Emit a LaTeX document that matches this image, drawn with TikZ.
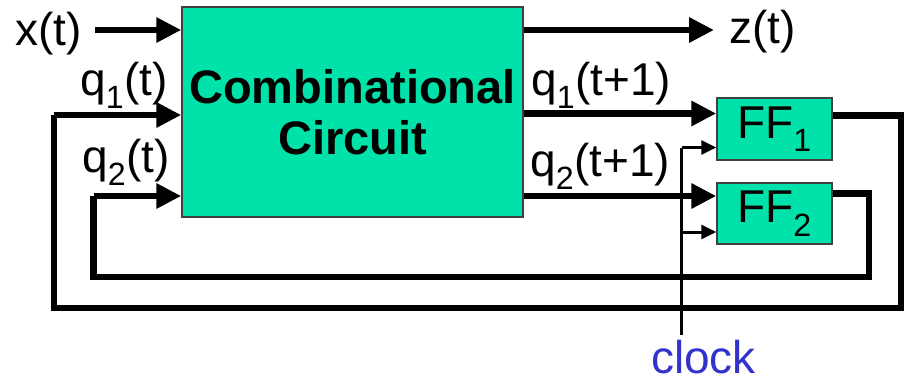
\documentclass[tikz,border=0pt]{standalone}
\usepackage{fontspec}
\setmainfont{Liberation Sans}
\definecolor{CircuitGreen}{RGB}{0, 226, 170}
\definecolor{ClockBlue}{RGB}{51, 51, 204}
\usetikzlibrary{arrows.meta, positioning}

\begin{document}
\begin{tikzpicture}[
        x=1pt, y=-1pt,
        block/.style={draw=black!75, fill=CircuitGreen, line width=1.5pt, rectangle, inner sep=0pt, align=center},
        sig/.style={inner sep=0pt, anchor=base west, font=\fontsize{46}{50}\selectfont},
        bus/.style={line width=6.5pt, -{Triangle[length=25pt, width=24pt]}},
        loopwire/.style={line width=6.5pt, line join=miter},
        clkwire/.style={line width=3pt},
        clkarrow/.style={line width=3pt, -{Triangle[length=15pt, width=14pt]}}
      ]
        \useasboundingbox (0,0) rectangle (904,381);

        \node (comb) [block, minimum width=341pt, minimum height=210pt, font=\fontsize{47}{51}\selectfont\bfseries] at (352.5,112) {Combinational\\Circuit};
        \node (ff1) [block, minimum width=115pt, minimum height=62pt, font=\fontsize{46}{50}\selectfont] at (774.5,129) {FF\textsubscript{1}};
        \node (ff2) [block, minimum width=115pt, minimum height=61pt, font=\fontsize{46}{50}\selectfont] at (774.5,213.5) {FF\textsubscript{2}};

        \node (xlab) [sig] at (15,45) {x(t)};
        \node (zlab) [sig] at (729,43) {z(t)};
        \node (q1lab) [sig] at (80,95) {q\textsubscript{1}(t)};
        \node (q2lab) [sig] at (82,172) {q\textsubscript{2}(t)};
        \node (q1next) [sig] at (531,95) {q\textsubscript{1}(t+1)};
        \node (q2next) [sig] at (530,176) {q\textsubscript{2}(t+1)};
        \node (clocklab) [sig, text=ClockBlue] at (651,373) {clock};

        \coordinate (xin) at (95,30);
        \coordinate (zout) at (714,30);
        \coordinate (clkin) at (681.5,335);
        \coordinate (clk1) at (681.5,147.5);
        \coordinate (clk2) at (681.5,232);

        % inputs and outputs
        \draw [bus] (xin) -- (xin -| comb.west);
        \draw [bus] (comb.east |- zout) -- (zout);
        \draw [bus] (comb.east |- 0,113.5) -- (ff1.west |- 0,113.5);
        \draw [bus] (comb.east |- 0,196) -- (ff2.west |- 0,196);

        % state feedback
        \draw [loopwire] (ff1.east |- 0,115.5) -| (901,308) -| (54,115);
        \draw [bus] (54,115) -- (comb.west |- 0,115);
        \draw [loopwire] (ff2.east |- 0,193.5) -| (869,277) -| (93.5,196);
        \draw [bus] (93.5,196) -- (comb.west |- 0,196);

        % clock
        \draw [clkwire] (clkin) -- (clk1);
        \draw [clkarrow] (clk1) -- (clk1 -| ff1.west);
        \draw [clkarrow] (clk2) -- (clk2 -| ff2.west);
      \end{tikzpicture}
\end{document}
